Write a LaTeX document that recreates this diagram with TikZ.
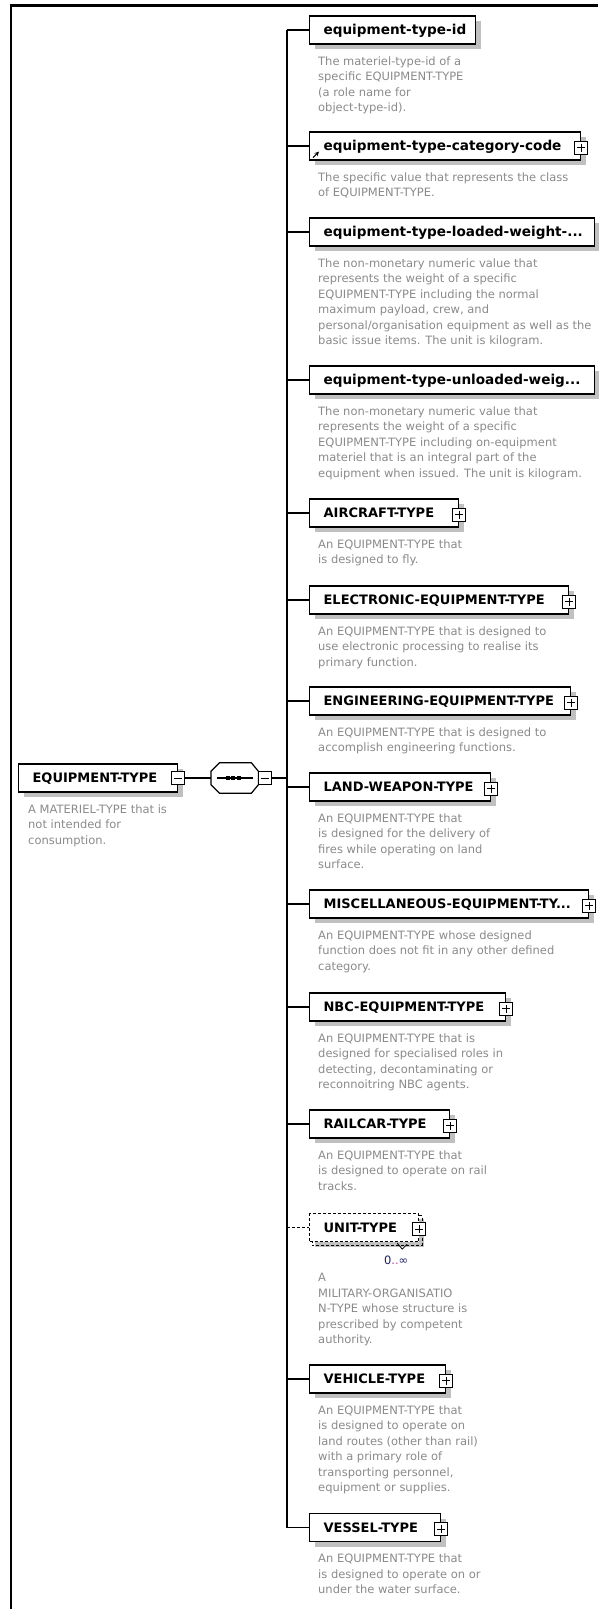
\documentclass[tikz,border=0pt]{standalone}
\usepackage{fontspec}
\usepackage{tikz}
\usetikzlibrary{arrows,calc,positioning,shadows}
\newfontfamily\dejavu{DejaVu Sans}
\definecolor{descgray}{RGB}{138,138,138}
\definecolor{shadegray}{RGB}{192,192,192}
\definecolor{occnavy}{RGB}{28,28,96}
\definecolor{occpink}{RGB}{200,60,160}
\exhyphenpenalty=10000
\hyphenpenalty=10000
\tikzstyle{elem}=[
  draw=black, line width=1.2pt, fill=white,
  anchor=west, minimum height=28pt, inner xsep=14pt, inner ysep=0pt,
  text height=9.4pt, text depth=0pt, align=left,
  font={\dejavu\bfseries\fontsize{13}{15}\selectfont},
  drop shadow={shadow xshift=5pt, shadow yshift=-5pt, fill=shadegray, opacity=1},
]
\tikzstyle{simple}=[
  elem,
  font={\dejavu\bfseries\fontsize{13.6}{15}\selectfont},
]
\tikzstyle{desc}=[
  anchor=north west, inner sep=0pt, align=left, text=descgray,
  font={\dejavu\fontsize{11.5}{15.5}\selectfont},
]
\tikzstyle{wire}=[
  draw=black,
  line width=1.2pt,
]
\tikzstyle{togglebox}=[
  draw=black, fill=white, line width=1pt,
  minimum size=13pt, inner sep=0pt,
]
\tikzstyle{expandbox}=[
  togglebox,
  path picture={
    \draw[line width=1pt] ([xshift=2.5pt]path picture bounding box.west)
      -- ([xshift=-2.5pt]path picture bounding box.east);
    \draw[line width=1pt] ([yshift=-2.5pt]path picture bounding box.north)
      -- ([yshift=2.5pt]path picture bounding box.south);
  },
]
\tikzstyle{collapsebox}=[
  togglebox,
  path picture={
    \draw[line width=1pt] ([xshift=2.5pt]path picture bounding box.west)
      -- ([xshift=-2.5pt]path picture bounding box.east);
  },
]
\tikzset{
  >=stealth,
}

\begin{document}
\begin{tikzpicture}[x=1pt,y=1pt]
  \useasboundingbox (0,0) rectangle (598,-1609);
  \draw[line width=2.2pt] (11,-1609) -- (11,-5.5) -- (598,-5.5);

  \node[elem, text width=131pt] (root) at (18,-778) {EQUIPMENT-TYPE};
  \node[collapsebox] (rootm) at (root.east) {};
  \node[desc] (rootd) at ([shift={(10,-11.5)}]root.south west)
    {A MATERIEL-TYPE that is\\not intended for\\consumption.};

  \node[minimum width=47pt, minimum height=30pt, inner sep=0pt,
    anchor=west] (seq) at (211,-778) {};
  \draw[line width=1.2pt, fill=white]
    ([xshift=8.5pt]seq.north west) -- ([xshift=-7pt]seq.north east)
    -- ([yshift=-8.5pt]seq.north east) -- ([yshift=8.5pt]seq.south east)
    -- ([xshift=-7pt]seq.south east) -- ([xshift=8.5pt]seq.south west)
    -- ([yshift=8.5pt]seq.south west) -- ([yshift=-8.5pt]seq.north west) -- cycle;
  \draw[line width=1.2pt] ([xshift=6pt]seq.west) -- ([xshift=-5pt]seq.east);
  \foreach \d in {-7,-1.5,4}
    \fill ([xshift=\d pt]seq.center) ++(-1.8pt,-1.8pt) rectangle ++(3.6pt,3.6pt);
  \node[collapsebox, anchor=west] (seqm) at (seq.east) {};
  \coordinate (tk) at (287,-778);
  \draw[wire] (rootm) -- (seq);
  \draw[wire] (seqm) -- (tk);

  \node[simple, text width=138pt] (e1) at (309,-30) {equipment-type-id};
  \node[desc] (d1) at ([shift={(9,-11.5)}]e1.south west)
    {The materiel-type-id of a\\specific EQUIPMENT-TYPE\\(a role name for\\object-type-id).};
  \node[simple, text width=243pt] (e2) at (309,-146) {equipment-type-category-code};
  \draw[->, line width=1pt] ([shift={(4,3)}]e2.south west) -- ++(6,6);
  \node[desc] (d2) at ([shift={(9,-11.5)}]e2.south west)
    {The specific value that represents the class\\of EQUIPMENT-TYPE.};
  \node[simple, text width=257pt] (e3) at (309,-232) {equipment-type-loaded-weight-...};
  \node[desc] (d3) at ([shift={(9,-11.5)}]e3.south west)
    {The non-monetary numeric value that\\represents the weight of a specific\\EQUIPMENT-TYPE including the normal\\maximum payload, crew, and\\personal/organisation equipment as well as the\\basic issue items. The unit is kilogram.};
  \node[simple, text width=257pt] (e4) at (309,-380) {equipment-type-unloaded-weig...};
  \node[desc] (d4) at ([shift={(9,-11.5)}]e4.south west)
    {The non-monetary numeric value that\\represents the weight of a specific\\EQUIPMENT-TYPE including on-equipment\\materiel that is an integral part of the\\equipment when issued. The unit is kilogram.};
  \node[elem, text width=121pt] (e5) at (309,-513) {AIRCRAFT-TYPE};
  \node[desc] (d5) at ([shift={(9,-11.5)}]e5.south west)
    {An EQUIPMENT-TYPE that\\is designed to fly.};
  \node[elem, text width=231pt] (e6) at (309,-600) {ELECTRONIC-EQUIPMENT-TYPE};
  \node[desc] (d6) at ([shift={(9,-11.5)}]e6.south west)
    {An EQUIPMENT-TYPE that is designed to\\use electronic processing to realise its\\primary function.};
  \node[elem, text width=233pt] (e7) at (309,-701) {ENGINEERING-EQUIPMENT-TYPE};
  \node[desc] (d7) at ([shift={(9,-11.5)}]e7.south west)
    {An EQUIPMENT-TYPE that is designed to\\accomplish engineering functions.};
  \node[elem, text width=153pt] (e8) at (309,-787) {LAND-WEAPON-TYPE};
  \node[desc] (d8) at ([shift={(9,-11.5)}]e8.south west)
    {An EQUIPMENT-TYPE that\\is designed for the delivery of\\fires while operating on land\\surface.};
  \node[elem, text width=251pt] (e9) at (309,-904) {MISCELLANEOUS-EQUIPMENT-TY...};
  \node[desc] (d9) at ([shift={(9,-11.5)}]e9.south west)
    {An EQUIPMENT-TYPE whose designed\\function does not fit in any other defined\\category.};
  \node[elem, text width=168pt] (e10) at (309,-1007) {NBC-EQUIPMENT-TYPE};
  \node[desc] (d10) at ([shift={(9,-11.5)}]e10.south west)
    {An EQUIPMENT-TYPE that is\\designed for specialised roles in\\detecting, decontaminating or\\reconnoitring NBC agents.};
  \node[elem, text width=112pt] (e11) at (309,-1124) {RAILCAR-TYPE};
  \node[desc] (d11) at ([shift={(9,-11.5)}]e11.south west)
    {An EQUIPMENT-TYPE that\\is designed to operate on rail\\tracks.};
  \node[elem, dash pattern=on 3pt off 2pt, text width=81pt] (e12) at (309,-1227.5) {UNIT-TYPE};
  \draw[line width=1pt, dash pattern=on 3pt off 2pt]
    ([shift={(0,-3)}]e12.north east) -- ++(3,0) -- ([shift={(3,-3)}]e12.south east)
    -- ([shift={(3,-3)}]e12.south west) -- ++(0,3);
  \draw[line width=.8pt] ([shift={(-22,-1)}]e12.south east) -- ++(5,-6) -- ++(5,5);
  \node[inner sep=0pt, font={\dejavu\fontsize{11.5}{14}\selectfont}] (e12occ)
    at ([shift={(-23,-18)}]e12.south east)
    {\textcolor{occnavy}{0}\textcolor{occpink}{..}\textcolor{occnavy}{∞}};
  \node[desc] (d12) at ([shift={(9,-31)}]e12.south west)
    {A\\MILITARY-ORGANISATIO\\N-TYPE whose structure is\\prescribed by competent\\authority.};
  \node[elem, text width=108pt] (e13) at (309,-1379) {VEHICLE-TYPE};
  \node[desc] (d13) at ([shift={(9,-11.5)}]e13.south west)
    {An EQUIPMENT-TYPE that\\is designed to operate on\\land routes (other than rail)\\with a primary role of\\transporting personnel,\\equipment or supplies.};
  \node[elem, text width=103pt] (e14) at (309,-1527.5) {VESSEL-TYPE};
  \node[desc] (d14) at ([shift={(9,-11.5)}]e14.south west)
    {An EQUIPMENT-TYPE that\\is designed to operate on or\\under the water surface.};

  \foreach \n in {e2,e5,e6,e7,e8,e9,e10,e11,e12,e13,e14}
    \node[expandbox] (\n-x) at ([yshift=-1.5pt]\n.east) {};

  \draw[wire] (tk |- e1.west) -- (tk |- e14.west);
  \foreach \n in {e1,e2,e3,e4,e5,e6,e7,e8,e9,e10,e11,e13,e14}
    \draw[wire] (tk |- \n.west) -- (\n);
  \draw[wire, dash pattern=on 3pt off 2pt] (tk |- e12.west) -- (e12);
\end{tikzpicture}
\end{document}
